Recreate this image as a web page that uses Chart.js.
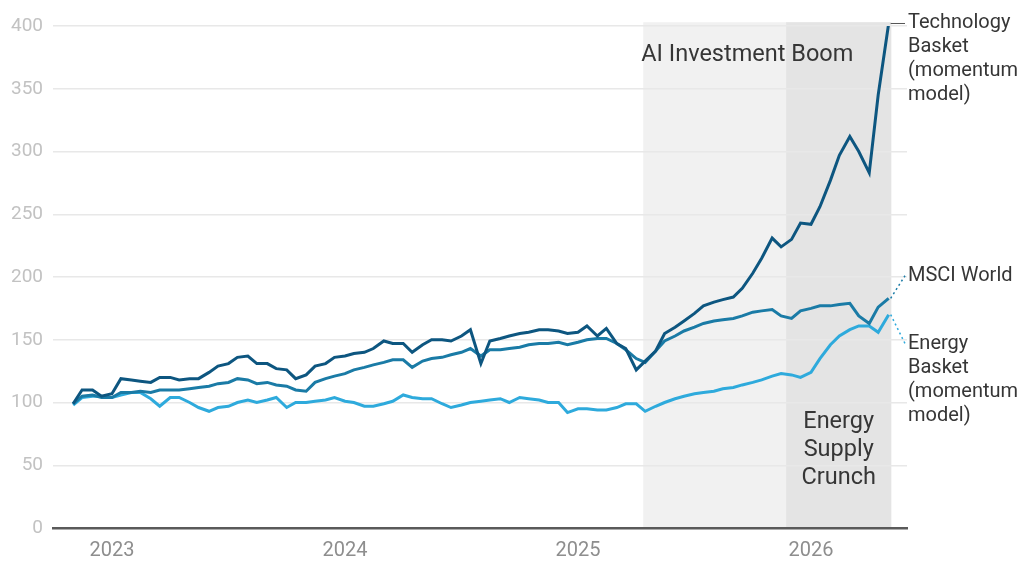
<!DOCTYPE html>
<html>
<head>
<meta charset="utf-8">
<script src="https://cdn.jsdelivr.net/npm/chart.js@4"></script>
<style>
  html, body { margin: 0; padding: 0; background: #fff; }
  #wrap { width: 1021px; height: 563px; position: relative; }
</style>
</head>
<body>
<div id="wrap"><canvas id="chart"></canvas></div>
<script>
// half-monthly observations, index rebased to 100
const dates = [
  '2022-11-01','2022-11-15','2022-12-01','2022-12-15',
  '2023-01-01','2023-01-15','2023-02-01','2023-02-15','2023-03-01','2023-03-15','2023-04-01','2023-04-15','2023-05-01','2023-05-15','2023-06-01','2023-06-15',
  '2023-07-01','2023-07-15','2023-08-01','2023-08-15','2023-09-01','2023-09-15','2023-10-01','2023-10-15','2023-11-01','2023-11-15','2023-12-01','2023-12-15',
  '2024-01-01','2024-01-15','2024-02-01','2024-02-15','2024-03-01','2024-03-15','2024-04-01','2024-04-15','2024-05-01','2024-05-15','2024-06-01','2024-06-15',
  '2024-07-01','2024-07-15','2024-08-01','2024-08-15','2024-09-01','2024-09-15','2024-10-01','2024-10-15','2024-11-01','2024-11-15','2024-12-01','2024-12-15',
  '2025-01-01','2025-01-15','2025-02-01','2025-02-15','2025-03-01','2025-03-15','2025-04-01','2025-04-15','2025-05-01','2025-05-15','2025-06-01','2025-06-15',
  '2025-07-01','2025-07-15','2025-08-01','2025-08-15','2025-09-01','2025-09-15','2025-10-01','2025-10-15','2025-11-01','2025-11-15','2025-12-01','2025-12-15',
  '2026-01-01','2026-01-15','2026-02-01','2026-02-15','2026-03-01','2026-03-15','2026-04-01','2026-04-15','2026-05-01'
];
const technology = [
  99,110,110,105,
  107,119,118,117,116,120,120,118,119,119,124,129,
  131,136,137,131,131,127,126,119,122,129,131,136,
  137,139,140,143,149,147,147,140,146,150,150,149,
  153,158,131,149,151,153,155,156,158,158,157,155,
  156,161,153,159,147,143,126,133,141,155,160,165,
  171,177,180,182,184,191,203,215,231,224,230,243,
  242,256,277,297,312,300,283,345,402
];
const msciWorld = [
  99,105,106,104,
  104,108,108,109,108,110,110,110,111,112,113,115,
  116,119,118,115,116,114,113,110,109,116,119,121,
  123,126,128,130,132,134,134,128,133,135,136,138,
  140,143,137,142,142,143,144,146,147,147,148,146,
  148,150,151,151,147,142,135,132,141,149,153,157,
  160,163,165,166,167,169,172,173,174,169,167,173,
  175,177,177,178,179,169,163,176,183
];
const energy = [
  98,104,105,105,
  104,106,108,108,103,97,104,104,100,96,93,96,
  97,100,102,100,102,104,96,100,100,101,102,104,
  101,100,97,97,99,101,106,104,103,103,99,96,
  98,100,101,102,103,100,104,103,102,100,100,92,
  95,95,94,94,96,99,99,93,97,100,103,105,
  107,108,109,111,112,114,116,118,121,123,122,120,
  124,135,146,153,158,161,161,156,170
];
const yearTicks = [2023, 2024, 2025, 2026];
const aiBoom = ['2025-04-12', '2026-05-05'];
const energyCrunch = ['2025-11-23', '2026-05-05'];

const TECH = '#0d5680';
const MSCI = '#1a7ba6';
const ENERGY = '#2eaadc';
const TEXT = '#363636';

function toYear(s) {
  const [y, m, d] = s.split('-').map(Number);
  return y + (m - 1) / 12 + (d - 1) / 365;
}

function points(values) {
  return dates.map((d, i) => ({ x: toYear(d), y: values[i] }));
}

const bandsPlugin = {
  id: 'bands',
  beforeDraw(chart) {
    const { ctx, chartArea, scales } = chart;
    const top = scales.y.getPixelForValue(403);
    ctx.save();
    ctx.fillStyle = '#f1f1f1';
    let x0 = scales.x.getPixelForValue(toYear(aiBoom[0]));
    let x1 = scales.x.getPixelForValue(toYear(aiBoom[1]));
    ctx.fillRect(x0, top, x1 - x0, chartArea.bottom - top);
    ctx.fillStyle = '#e4e4e4';
    x0 = scales.x.getPixelForValue(toYear(energyCrunch[0]));
    x1 = scales.x.getPixelForValue(toYear(energyCrunch[1]));
    ctx.fillRect(x0, top, x1 - x0, chartArea.bottom - top);
    ctx.restore();
  }
};

const labelsPlugin = {
  id: 'labels',
  afterDatasetsDraw(chart) {
    const { ctx, chartArea, scales } = chart;
    const xs = scales.x, ys = scales.y;
    ctx.save();
    ctx.fillStyle = TEXT;

    // region titles
    ctx.font = '23.5px Roboto';
    ctx.textBaseline = 'middle';
    ctx.textAlign = 'left';
    ctx.fillText('AI Investment Boom', xs.getPixelForValue(toYear(aiBoom[0])) - 2, ys.getPixelForValue(377));
    const cx = (xs.getPixelForValue(toYear(energyCrunch[0])) + xs.getPixelForValue(toYear(energyCrunch[1]))) / 2;
    ctx.textAlign = 'center';
    ['Energy', 'Supply', 'Crunch'].forEach((t, i) => {
      ctx.fillText(t, cx, ys.getPixelForValue(84) + i * 28);
    });

    // series end labels
    const lastX = xs.getPixelForValue(toYear(dates[dates.length - 1]));
    const endLabels = [
      { lines: ['Technology', 'Basket', '(momentum', 'model)'], values: technology, at: 402, color: '#555', dash: [] },
      { lines: ['MSCI World'], values: msciWorld, at: 201, color: MSCI, dash: [2, 3] },
      { lines: ['Energy', 'Basket', '(momentum', 'model)'], values: energy, at: 147, color: ENERGY, dash: [2, 3] }
    ];
    ctx.font = '20px Roboto';
    ctx.textAlign = 'left';
    endLabels.forEach(l => {
      const ly = ys.getPixelForValue(l.at);
      const py = ys.getPixelForValue(l.values[l.values.length - 1]);
      ctx.strokeStyle = l.color;
      ctx.lineWidth = l.dash.length ? 1.5 : 1;
      ctx.setLineDash(l.dash);
      ctx.beginPath();
      ctx.moveTo(lastX + 2, py);
      ctx.lineTo(chartArea.right - 2, ly);
      ctx.stroke();
      ctx.setLineDash([]);
      l.lines.forEach((t, i) => ctx.fillText(t, chartArea.right + 1, ly + i * 24));
    });
    ctx.restore();
  }
};

function lineSet(label, values, color) {
  return {
    label: label,
    data: points(values),
    borderColor: color,
    borderWidth: 3,
    pointRadius: 0,
    tension: 0,
    fill: false
  };
}

new Chart(document.getElementById('chart'), {
  type: 'line',
  data: {
    datasets: [
      lineSet('Technology Basket (momentum model)', technology, TECH),
      lineSet('MSCI World', msciWorld, MSCI),
      lineSet('Energy Basket (momentum model)', energy, ENERGY)
    ]
  },
  options: {
    responsive: true,
    maintainAspectRatio: false,
    animation: false,
    layout: { padding: { top: 26, right: 114, left: 0, bottom: 0 } },
    plugins: {
      legend: { display: false },
      tooltip: { enabled: false }
    },
    scales: {
      x: {
        type: 'linear',
        min: 2022.747,
        max: 2026.412,
        afterBuildTicks: scale => { scale.ticks = yearTicks.map(v => ({ value: v })); },
        afterFit: scale => { scale.height = 35; },
        grid: { display: false, drawTicks: false },
        border: { display: true, color: '#5a5a5a', width: 2.5 },
        ticks: {
          color: '#8e8e8e',
          font: { family: 'Roboto', size: 20 },
          padding: 11,
          maxRotation: 0,
          autoSkip: false,
          callback: v => String(v)
        }
      },
      y: {
        min: 0,
        max: 400,
        afterFit: scale => { scale.width = 53; },
        grid: { color: '#e8e8e8', lineWidth: 1.5, drawTicks: false },
        border: { display: false },
        ticks: {
          stepSize: 50,
          color: '#c2c2c2',
          font: { family: 'Roboto', size: 19 },
          padding: 10
        }
      }
    }
  },
  plugins: [bandsPlugin, labelsPlugin]
});
</script>
</body>
</html>
